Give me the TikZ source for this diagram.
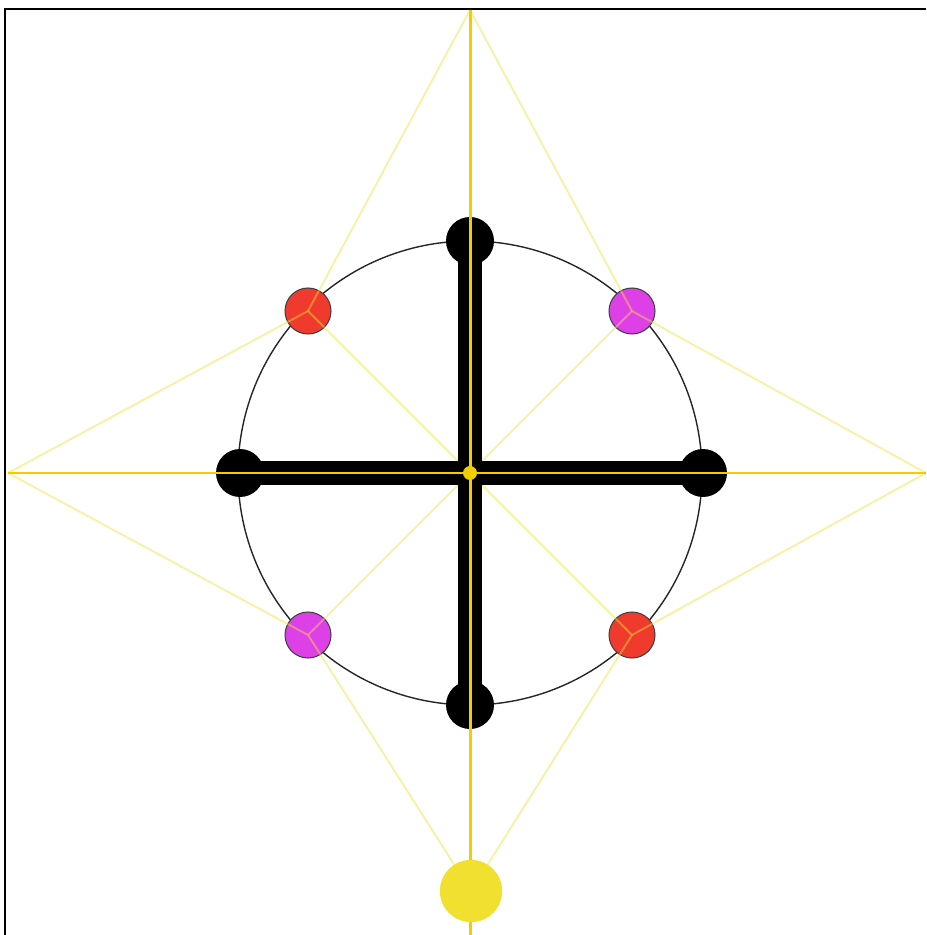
\documentclass[tikz,border=0pt]{standalone}
\usepackage{xcolor}
\usepackage{tikz}
\usetikzlibrary{positioning}

\definecolor{gold}{RGB}{242,206,0}
\definecolor{paleyellow}{RGB}{238,224,60}
\definecolor{dotred}{RGB}{240,58,46}
\definecolor{dotpink}{RGB}{222,64,232}
\definecolor{sunyellow}{RGB}{242,224,48}

\begin{document}
\begin{tikzpicture}[x=0.02cm, y=-0.02cm,
    axis/.style={draw=gold, line width=1.7pt},
    ray/.style={draw=paleyellow, line width=1.1pt, opacity=0.45},
    bar/.style={draw=black, line width=14pt},
    knob/.style={circle, fill=black, inner sep=0pt, minimum size=0.96cm},
    bead/.style={circle, draw=black!75, line width=0.6pt, inner sep=0pt, minimum size=0.92cm}]
        \useasboundingbox (0,0) rectangle (926,935);
        \draw[line width=1.5pt] (5,935) -- (5,9) -- (926,9);

        \coordinate (c) at (470,473);
        \coordinate (tip-n) at (470,10);
        \coordinate (tip-w) at (8,473);
        \coordinate (tip-e) at (926,473);
        \coordinate (tip-s) at (470,935);

        \draw[black!85, line width=0.8pt] (c) circle[radius=232];

        \node[bead, fill=dotred] (b-nw) at (308,311) {};
        \node[bead, fill=dotpink] (b-ne) at (632,311) {};
        \node[bead, fill=dotpink] (b-sw) at (308,635) {};
        \node[bead, fill=dotred] (b-se) at (632,635) {};
        \node[circle, fill=sunyellow, inner sep=0pt, minimum size=1.24cm] (sun) at (471,891) {};

        \path[ray]
        (tip-n) edge (b-nw.center)
        (tip-n) edge (b-ne.center)
        (tip-w) edge (b-nw.center)
        (tip-w) edge (b-sw.center)
        (tip-e) edge (b-ne.center)
        (tip-e) edge (b-se.center)
        (sun.center) edge (b-sw.center)
        (sun.center) edge (b-se.center)
        (c) edge (b-nw.center)
        (c) edge (b-ne.center)
        (c) edge (b-sw.center)
        (c) edge (b-se.center);

        \node[knob] (k-n) at (470,241) {};
        \node[knob] (k-s) at (470,705) {};
        \node[knob] (k-w) at (240,473) {};
        \node[knob] (k-e) at (703,473) {};
        \draw[bar] (k-n.center) -- (k-s.center);
        \draw[bar] (k-w.center) -- (k-e.center);

        \draw[axis] (tip-w) -- (tip-e);
        \draw[axis] (tip-n) -- (tip-s);
        \node[circle, fill=gold, inner sep=0pt, minimum size=0.28cm] (hub) at (c) {};
        \node[circle, fill=sunyellow, inner sep=0pt, minimum size=1.24cm] at (sun) {};
    \end{tikzpicture}
\end{document}
